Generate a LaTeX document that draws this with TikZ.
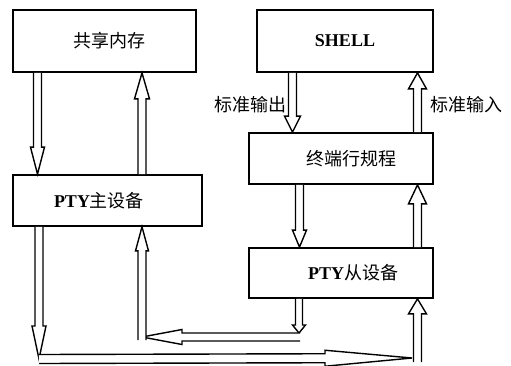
\documentclass[tikz,border=0pt]{standalone}
\usepackage{fontspec}
\setmainfont{Liberation Serif}
\newfontfamily\cjk{Noto Sans CJK SC}
\usetikzlibrary{calc}
% hollow double-shaft arrow: #1 start, #2 end, #3 head length (px), #4 head half width (px), #5 shaft half width (px)
\newcommand\harrow[5]{%
  \path let \p1=(#1), \p2=(#2), \n1={atan2(\y2-\y1,\x2-\x1)}, \n2={veclen(\x2-\x1,\y2-\y1)} in
    \pgfextra{\xdef\arrAng{\n1}\xdef\arrLen{\n2}\xdef\arrX{\x1}\xdef\arrY{\y1}};
  \draw[arrowline, shift={(\arrX,\arrY)}, rotate={\arrAng}]
    (0pt,{-#5*0.75pt}) -- ({\arrLen-#3*0.75pt},{-#5*0.75pt}) -- ({\arrLen-#3*0.75pt},{-#4*0.75pt})
    -- ({\arrLen},0pt) -- ({\arrLen-#3*0.75pt},{#4*0.75pt}) -- ({\arrLen-#3*0.75pt},{#5*0.75pt})
    -- (0pt,{#5*0.75pt});
}
\begin{document}
\begin{tikzpicture}[x=0.75pt,y=-0.75pt,
  box/.style={draw, line width=1.3pt, inner sep=0pt, fill=white, font=\fontsize{13.5}{16}\selectfont},
  arrowline/.style={draw, line width=1.05pt, line join=miter, fill=white},
  lbl/.style={inner sep=0pt, font=\cjk\fontsize{13.5}{16}\selectfont}]
\useasboundingbox (0,0) rectangle (511,365);
\fill[white] (0,0) rectangle (511,365);

\node[box, minimum width=137.25pt, minimum height=46.5pt] (gx) at (104.5,41) {\hspace*{7.5pt}{\cjk 共享内存}};
\node[box, minimum width=141.75pt, minimum height=38.25pt] (pm) at (107.5,200.5) {\textbf{PTY}{\cjk 主设备}\hspace*{12.75pt}};
\node[box, minimum width=132pt, minimum height=46.5pt] (sh) at (345,41) {\textbf{SHELL}};
\node[box, minimum width=138pt, minimum height=38.25pt] (tl) at (341,158.5) {\hspace*{15pt}{\cjk 终端行规程}};
\node[box, minimum width=138pt, minimum height=37.5pt] (ps) at (341,273) {\hspace*{18pt}\textbf{PTY}{\cjk 从设备}};

\node[lbl] (out) at (250,105) {标准输出};
\node[lbl] (in) at (466,105) {标准输入};

\coordinate (bl) at (39,359);
\coordinate (br) at (412,358);
\coordinate (brv) at (417.5,362);
\coordinate (mr) at (299,333);
\coordinate (mrh) at (300,337);
\coordinate (ml) at (142,337);
\coordinate (mlv) at (142,340);

\harrow{gx.south -| 37.5,0}{pm.north -| 37.5,0}{27}{7}{4}
\harrow{pm.north -| 142,0}{gx.south -| 142,0}{26}{7.5}{4}
\harrow{pm.south -| 39,0}{bl}{33}{7}{4}
\harrow{bl}{br}{87}{8}{4.5}
\harrow{brv}{ps.south -| 417.5,0}{15}{9}{4}
\harrow{ps.south -| 299,0}{mr}{8}{6.5}{3.5}
\harrow{mrh}{ml}{40}{7.5}{4}
\harrow{mlv}{pm.south -| 142,0}{24}{6.5}{4}
\harrow{sh.south -| 292.5,0}{tl.north -| 292.5,0}{16}{8}{4}
\harrow{tl.north -| 417.5,0}{sh.south -| 417.5,0}{16}{9}{4}
\harrow{tl.south -| 299.5,0}{ps.north -| 299.5,0}{17}{7}{4}
\harrow{ps.north -| 417.5,0}{tl.south -| 417.5,0}{19}{9}{4}
\end{tikzpicture}
\end{document}
